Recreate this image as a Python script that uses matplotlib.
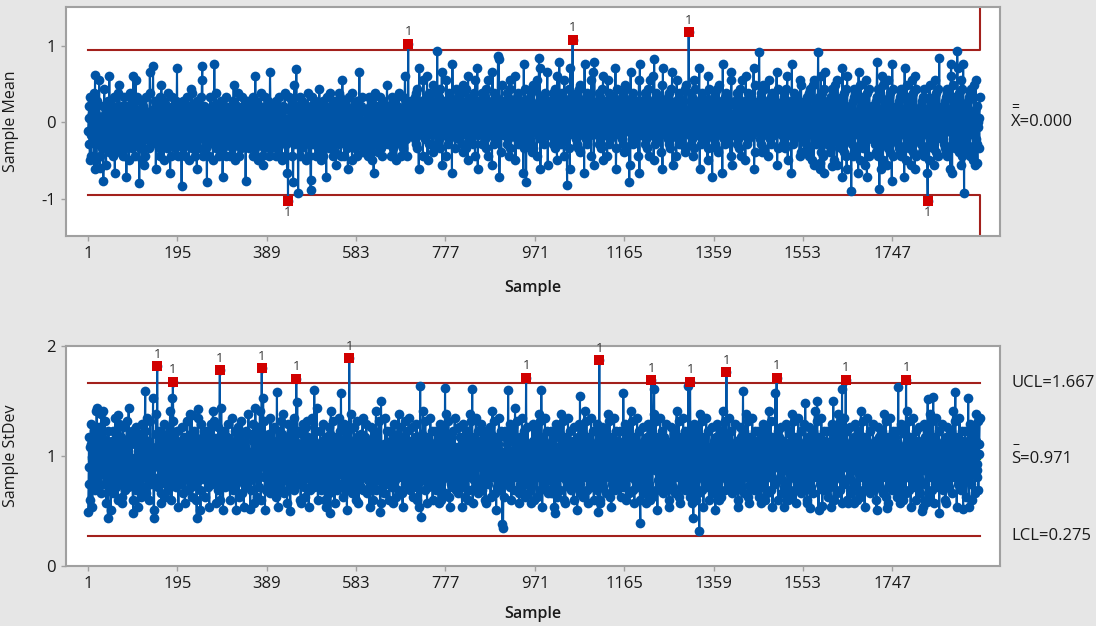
import numpy as np
import matplotlib.pyplot as plt
from matplotlib import transforms

plt.rcParams['font.family'] = ['Open Sans', 'DejaVu Sans']
plt.rcParams['axes.unicode_minus'] = False

ALPHABET = "0123456789ABCDEFGHIJKLMNOPQRSTUVWXYZabcdefghijklmnopqrstuvwxyz"

# sample means, one char per subgroup, value = -1.705 + 0.055 * position in ALPHABET
mean_codes = """
TWZQVbSNaX RUYcKVTXMW aQSVfNbUTR WPZHSdQXUL YTRVaOgSZU
QVXTNZbRJW SYPVcTQXeO VUSZRWNYTb PXVIRZUQWM cSVYUPaTgR
UNWfSVQbTY RXPUaVSMWT ZLYVNRbUXS TVPWhcRQUY SNVXTWaKRU
VZSPXTbNWe QYRVMaTSXW UPZQcVRYJN WSUbXQVTPZ RaUiSNYVQT
XRVGZPUaSQ WNYVbTRXUM ZSQWdPcTYR UXNVSZKaWT PRVUYbSfQN
TVZRWSUPaY QXNTVbRSZU WMYQjTXPcS RUZVNWQTaY SXIPVUZTWN
bRSVYTQXUN ZWPVaSeRMY UXQZVcRNWT SYPUVbXRQZ TWHSaVUYRP
VUXSQZTbNW RYPgTaSUXM QZWVRcTYNS LPXVZbQRWT SaYNVhXPRZ
QTVYSXRUaN WZPTVbSQRX MYUVZWTcNR QSXVPUbYTW RZaNSVQXeT
YRTVSZUQXb NWPVTaRSYU ZQXMVWTcRN SUYFPZbQXT WRaSNVUYQZ
PUdSXMVRYT aNQWUZSIVb TRXYPcWQSU VNZTaRXOLW UYVScQbTRN
WSfRTVNaUX QZPYKVSbWT XRUMcQVZSY PTWaNRUVXh SQZTbYUOVR
SVYRQWTXNU bPZVSaMRTY JWUXcQVSRZ OTYbUWPVNX SaRQTVZUYe
XQTUZRVNSb WYPaTVRQXM UZSVcWTYRN QXUbPVSZgT RYaNWQVUXS
SaVXUYTZWR bQcWPdVXKi UYWTZSaNfW VXRbUYgMWT QcZXVWSaOe
WTZVXQcUYS aRbWPdXVhL WUYSaTZNfV XWQcRbUYTZ JjVXWSaPdW
UYXVWRbTZS aQcOeWVXUY PdTZMgWSaX VRbUYWQcTZ NfWXViKSaW
XVTZWQcSaU YRbWPdVXNf TZUYWSaLhV XQcWRbTZUY VXkISaWOeW
TZSaVXWUYQ cRbWNfPdVX UYTZSaWgMV XRbQcWUYTZ SaVXWJjPdW
WVXSaTZUYR bQcWOePdVX TZUYNfWSaV XiKRbTZWUY QcVXSaWhLW
aSWVXUYTZQ cRbPdWVXMg UYSaTZWQcV XRbNfUYTZW VXSaPdKiWW
VXWTZUYSaR bQcWPdVXOe TZUYWSaJjV XRbQcWUYTZ SaNfVXWhLW
UYTZVXWSaQ cRbWPdVXgM TZUYSaWNfV XQcRbWUYTZ VXSaWiKPdW
ZTXVWUYSaR bQcWOeVXPd TZUYWSaLhV XRbQcWUYTZ SaVXWNfJjW
SaVXTZWUYQ cRbWPdVXNf TZUYWSagMV XQcRbWUYTZ VXSaWOeKiW
XVTZWUYSaR bQcWPdVXhL TZUYWSaNfV XRbQcWUYTZ SaVXWPdOeW
WUYTZVXSaQ cRbWNfPdVX TZUYWSaiKV XQcRbWUYTZ VXSaWMgPdW
TZVXWUYSaR bQcWPdVXOe UYTZWSaJjV XRbQcWUYTZ SaVXWNfhLW
VXWSaTZUYQ cRbWPdVXNf TZUYWSaMgV XQcRbWUYTZ VXSaWiKOeW
UYXVWTZSaR bQcWOePdVX TZUYWSaNfV XRbQcWUYTZ SaVXWhLPdW
ZTVXWUYSaQ cRbWPdVXgM TZUYWSaJjV XQcRbWUYTZ VXSaWNfOeW
UWTXSYRZVQ aPbVOcNdUW TXMeSYLfRZ VQaUWPbTXV KgOcSYNdJh
SYVUWQaTXR ZObPbNdVUW MeTXSYLfRZ QaVUWPbIiT XOcSYNdKgV
TXUWRZVSYQ aNdObPcUWV TXJhSYMeRZ QaPbVUWLfT XOcSYNdVUW
VRZUWSYTXQ aObPbNdUWV TXKgSYMeRZ QaVUWLfPbT XOcSYHjNdV
UWSYTXRZVQ aPbOcNdVUW TXIiSYMeRZ QaPbVUWLfT XOcSYKgNdV
SYUWVTXRZQ aObPbNdUWV TXJhSYMeRZ QaVUWPbLfT XOcSYNdVUW
TXVUWRZSYQ aPbOcNdVUW TXKgSYMeRZ QaPbVUWIiT XOcSYLfNdV
UWSYTXRZVQ aPbOcNdVUW TXMeSYLfRZ QaVUWPb
"""

# sample standard deviations, value = 0.30 + 0.03 * position in ALPHABET
sd_codes = """
MFTKAQXRN8 HPSVLDOGbJ QEKWNIUCMa TLRBJFYOH9 SKGPVMDQN7
OHSLCVMGQZ KEUNAJRXPF IMTB9OWLHS NDQKYGPEcJ RMFTLVIAOK
LGRNDWKSH8 PFUMBJQXOE TKIVNCRLZG MSPAHYJFOQ KD7TNGLUaM
NQEKVHSMC9 JTGOXLRBPF MIUDKWNSbH LAQFOYJTGM PESKVN8RHJ
KRFMWIOCTL 9NHSPYDJQG MaKEUOBLRH NVFTJAMSZK QGOD7PXILT
PHSNBKVGQM EUJ8LRXOFT KCMYHQIP9S NDLWGTJAOc RKFMUHVNEQ
JTFOXMGRAK SHNZLDQEPV M7IUKWOBTG LSHYNCRJ8F QMEVPKUIaN
MGQKDUNHXS 9OJFRLBTWI PEMbKAVGSN LQHY7OTDJR FMUKCPZNIS
OSEKWLGRBN TH8PQVJFMY DKUIaNCSLO GTAJXRHME9 PVNKFQZLDS
KHTNCMVFRL QA9JUOXGSE MPBWKIYLT8 NDROGQJZHM ESKVPFcLIA
RJGNVKDSMH OXEPAL8TQF IMWCKUNbGS JHYOR9LEMT QDPKZFNVIB
NFSLBMXHQK TD7OJVGREP MaIKCSNWHL OAFTYJQ9GM RKEUNLZDPS
LTHMXOCGRK S8NEPWJFQA MVIUKbDLSG NYHJT9OQEM KPCRFZLNHV
PKFQAMVHSN EJ9TLXGROB KMUDaIQWNS HLC8OTJYFM QGVKEPZNRD
MSGKWNBHRJ TOEXLAQF8P IVMCUKSbGN JDYLRH9OTE QMKZPFNVAL
JRFMVLDSHO Q9KTEXNAGP UMIWCKRaLS HNYBO8TJFQ MEVPKGZLDN
OGQLCNWHTK ME8SJXFPRB LIUVKADNSa HQYMJ9OTGE KRZNFPCVLM
NSEKXMDHQJ TAL9OVGRFP KMWIBUNSbL HJYCOT7QEM RGZKPDNVFL
KQHNBTVMFR LJ8OSXEGPA MIUWKDNcHS LOYJRC9TFQ MEZKPGNVBL
MTFLWKCHRN OE9QJXGSPA KMVIUBNSaH LDYJOT8QRF MKZEPGNVCL
LRGMVNCSHK PE8TJXOFQB MIWKUDNaLS HJYAOR9TGQ KMZFPENVDL
OHSKAMWGRN JE7TLXQFPC MKVIUBNSbH LJYDOT9QRG MFZKPENVAL
NQFLXKDHSM OA9TJWGRPE KMUIVCNSaL HJYBOR8TFQ MGZKPDNVEL
KSGNVMBHRL OE8QJXFTPA MIWKUCNSbH LJYDOT9QGR MFZKPENVAL
MRHKWNCGSL PE9TJXOFQA KMVIUBNSaH LJYDOR7TGQ MKZFPENVCL
LTFNXKDHRM OA8QJWGSPE MKUIVCNSbL HJYBOT9QRF MGZKPDNVEL
NSGLVMBHQK OE9TJXFRPA KMWIUCNSaH LJYDOR8TGQ MFZKPENVAL
KQHMWNCGSL PE7TJXOFRA MKVIUBNSbH LJYDOT9QGR MKZFPENVCL
MRFKXLDHSN OA8QJWGTPE KMUIVCNSaL HJYBOR9TFQ MGZKPDNVEL
LSGNVMBHRK OE9TJXFQPA MIWKUCNSbH LJYDOT8QRG MFZKPENVAL
NTHLWKCGSM PE8QJXORFA KMVIUBNSaH LJYDOR9TGQ MKZFPENVCL
KRFMXNDHSL OA9TJWGQPE MKUIVCNSbL HJYBOT7QRF MGZKPDNVEL
MSGKVLBHRN OE8QJXFTPA KMWIUCNSaH LJYDOR9TGQ MFZKPENVAL
LQHNWMCGSK PE9TJXORFA MKVIUBNSbH LJYDOT8QGR MKZFPENVCL
NRFLXKDHSM OA7QJWGTPE KMUIVCNSaL HJYBOR9TFQ MGZKPDNVEL
KTGMVNBHRL OE9TJXFQPA MIWKUCNSbH LJYDOT8QRG MFZKPENVAL
MSHKWLCGRN PE8QJXOTFA KMVIUBNSaH LJYDOR9TGQ MKZFPENVCL
LRFNXMDHSK OA9TJWGQPE MKUIVCNSbL HJYBOT8QRF MGZKPDNVEL
NSGLVKBHRM OE8QJXFTPA KMWIUCNSaH LJYDORZ
"""

# points read individually (extremes and flagged subgroups), sample -> value
mean_notable = {5: -0.49, 16: 0.62, 27: -0.60, 112: -0.79, 142: 0.74, 249: 0.74,
                259: -0.78, 433: -0.66, 435: -1.03, 446: -0.78, 453: 0.70, 457: -0.92,
                485: -0.75, 696: 1.03, 759: 0.93, 891: 0.87, 952: -0.78, 980: 0.84,
                1024: 0.79, 1041: -0.82, 1053: 1.08, 1100: 0.79, 1176: -0.78, 1230: 0.83,
                1305: 1.18, 1356: -0.71, 1458: 0.92, 1586: 0.92, 1590: -0.53, 1616: -0.57,
                1658: -0.90, 1692: -0.71, 1714: 0.79, 1719: -0.87, 1824: -1.03, 1849: 0.84,
                1875: 0.77, 1877: -0.66, 1888: 0.93, 1901: 0.77, 1903: -0.92, 1932: -0.53}

sd_notable = {1: 0.49, 20: 1.44, 34: 1.41, 44: 0.44, 66: 1.37, 99: 0.48, 125: 1.59,
              142: 1.53, 144: 0.44, 151: 1.815, 183: 1.53, 185: 1.675, 226: 1.37,
              237: 0.44, 240: 1.43, 272: 1.41, 287: 1.78, 294: 0.51, 353: 0.52, 364: 1.44,
              378: 1.80, 381: 1.53, 411: 1.58, 433: 0.57, 440: 0.50, 453: 1.70, 455: 1.49,
              492: 1.60, 527: 0.48, 550: 1.57, 568: 1.89, 635: 0.49, 637: 1.50, 722: 1.64,
              724: 0.45, 776: 1.62, 835: 1.61, 900: 0.38, 902: 0.35, 913: 1.60, 952: 1.71,
              985: 1.60, 1015: 0.48, 1069: 1.55, 1108: 0.49, 1111: 1.87, 1163: 1.57,
              1200: 0.39, 1224: 1.69, 1230: 1.61, 1304: 1.64, 1308: 1.675, 1315: 0.44,
              1328: 0.32, 1387: 1.76, 1423: 1.59, 1493: 1.57, 1496: 1.71, 1558: 1.48,
              1569: 0.53, 1584: 1.50, 1595: 0.55, 1619: 1.50, 1638: 1.61, 1646: 1.695,
              1651: 0.57, 1736: 0.53, 1760: 1.63, 1764: 0.66, 1777: 1.695, 1812: 0.50,
              1822: 0.58, 1824: 1.52, 1836: 1.54, 1849: 0.48, 1884: 1.58, 1901: 0.52,
              1912: 1.53}

xbar_center, xbar_ucl, xbar_lcl = 0.000, 0.947, -0.947
xbar_last_limit = 2.12   # last subgroup is smaller, its limits are off the chart
s_center, s_ucl, s_lcl = 0.971, 1.667, 0.275
sample_ticks = [1, 195, 389, 583, 777, 971, 1165, 1359, 1553, 1747]

BLUE = '#0054a6'
RED = '#d10000'
LIMIT = '#a3201c'
CENTER = '#00a000'
FRAME = '#a0a0a0'
BG = '#e6e6e6'
TXT = '#1a1a1a'


def decode(codes, lo, step, notable):
    vals = np.array([lo + step * ALPHABET.index(c) for c in "".join(codes.split())])
    for k, v in notable.items():
        if k <= len(vals):
            vals[k - 1] = v
    return vals


means = decode(mean_codes, -1.705, 0.055, mean_notable)
sds = decode(sd_codes, 0.30, 0.03, sd_notable)

fig = plt.figure(figsize=(10.96, 6.26), dpi=100, facecolor=BG)
ax1 = fig.add_axes([66 / 1096, 1 - 236 / 626, 934 / 1096, 229 / 626])
ax2 = fig.add_axes([66 / 1096, 1 - 566 / 626, 934 / 1096, 220 / 626])


def draw(ax, vals, center, ucl, lcl, last_ucl=None, last_lcl=None):
    n = len(vals)
    x = np.arange(1, n + 1)
    ucl_arr = np.full(n, ucl)
    lcl_arr = np.full(n, lcl)
    if last_ucl is not None:
        ucl_arr[-1] = last_ucl
        lcl_arr[-1] = last_lcl
    edges = [1, n - 0.5, n + 0.5]
    ax.step(edges, [ucl_arr[0], ucl_arr[-1], ucl_arr[-1]], where='post', color=LIMIT, lw=1.5, zorder=2)
    ax.step(edges, [lcl_arr[0], lcl_arr[-1], lcl_arr[-1]], where='post', color=LIMIT, lw=1.5, zorder=2)
    ax.plot([1, n - 0.5], [center, center], color=CENTER, lw=1, zorder=1)
    ax.plot(x, vals, '-', color=BLUE, lw=1.5, zorder=3)
    ax.plot(x, vals, 'o', color=BLUE, ms=7, mew=0, zorder=4)
    out = (vals > ucl_arr) | (vals < lcl_arr)
    ax.plot(x[out], vals[out], 's', color=RED, ms=7.5, mew=0, zorder=5)
    for xi, yi, hi in zip(x[out], vals[out], vals[out] > ucl_arr[out]):
        ax.annotate('1', (xi, yi), xytext=(0, 12 if hi else -11), textcoords='offset pixels',
                    ha='center', va='center', fontsize=9.5, color='#333333', zorder=6)

    ax.set_facecolor('white')
    ax.set_xlim(-47, 1981)
    ax.set_xticks(sample_ticks)
    for sp in ax.spines.values():
        sp.set_color(FRAME)
        sp.set_linewidth(1.5)
    ax.tick_params(direction='out', length=3.5, width=1, color=FRAME, labelsize=12,
                   labelcolor=TXT, pad=4)


draw(ax1, means, xbar_center, xbar_ucl, xbar_lcl, xbar_last_limit, -xbar_last_limit)
ax1.set_ylim(-1.484, 1.51)
ax1.set_yticks([-1, 0, 1])
ax1.set_ylabel('Sample Mean', fontsize=11.5, color=TXT)
ax1.yaxis.set_label_coords(-0.05, 0.5)
ax1.set_xlabel('Sample', fontsize=11.5, fontweight='semibold', color=TXT)
ax1.xaxis.set_label_coords(0.5, -0.19)

draw(ax2, sds, s_center, s_ucl, s_lcl)
ax2.set_ylim(0, 2)
ax2.set_yticks([0, 1, 2])
ax2.set_ylabel('Sample StDev', fontsize=11.5, color=TXT)
ax2.yaxis.set_label_coords(-0.05, 0.5)
ax2.set_xlabel('Sample', fontsize=11.5, fontweight='semibold', color=TXT)
ax2.xaxis.set_label_coords(0.5, -0.18)

# limit labels on the right
t1 = transforms.blended_transform_factory(ax1.transAxes, ax1.transData)
ax1.text(1.0118, xbar_center, 'X=%.3f' % xbar_center, transform=t1, va='center', ha='left',
         fontsize=12, color=TXT)
ax1.annotate('=', xy=(1.0118, xbar_center), xycoords=t1, xytext=(4, 15), textcoords='offset pixels',
             ha='center', va='center', fontsize=10, color=TXT)

t2 = transforms.blended_transform_factory(ax2.transAxes, ax2.transData)
ax2.text(1.0118, s_ucl, 'UCL=%.3f' % s_ucl, transform=t2, va='center', ha='left', fontsize=12, color=TXT)
ax2.text(1.0118, s_center, 'S=%.3f' % s_center, transform=t2, va='center', ha='left', fontsize=12, color=TXT)
ax2.annotate('\u2013', xy=(1.0118, s_center), xycoords=t2, xytext=(5, 15), textcoords='offset pixels',
             ha='center', va='center', fontsize=10, color=TXT)
ax2.text(1.0118, s_lcl, 'LCL=%.3f' % s_lcl, transform=t2, va='center', ha='left', fontsize=12, color=TXT)

fig.savefig('out.png', dpi=100, facecolor=BG)
